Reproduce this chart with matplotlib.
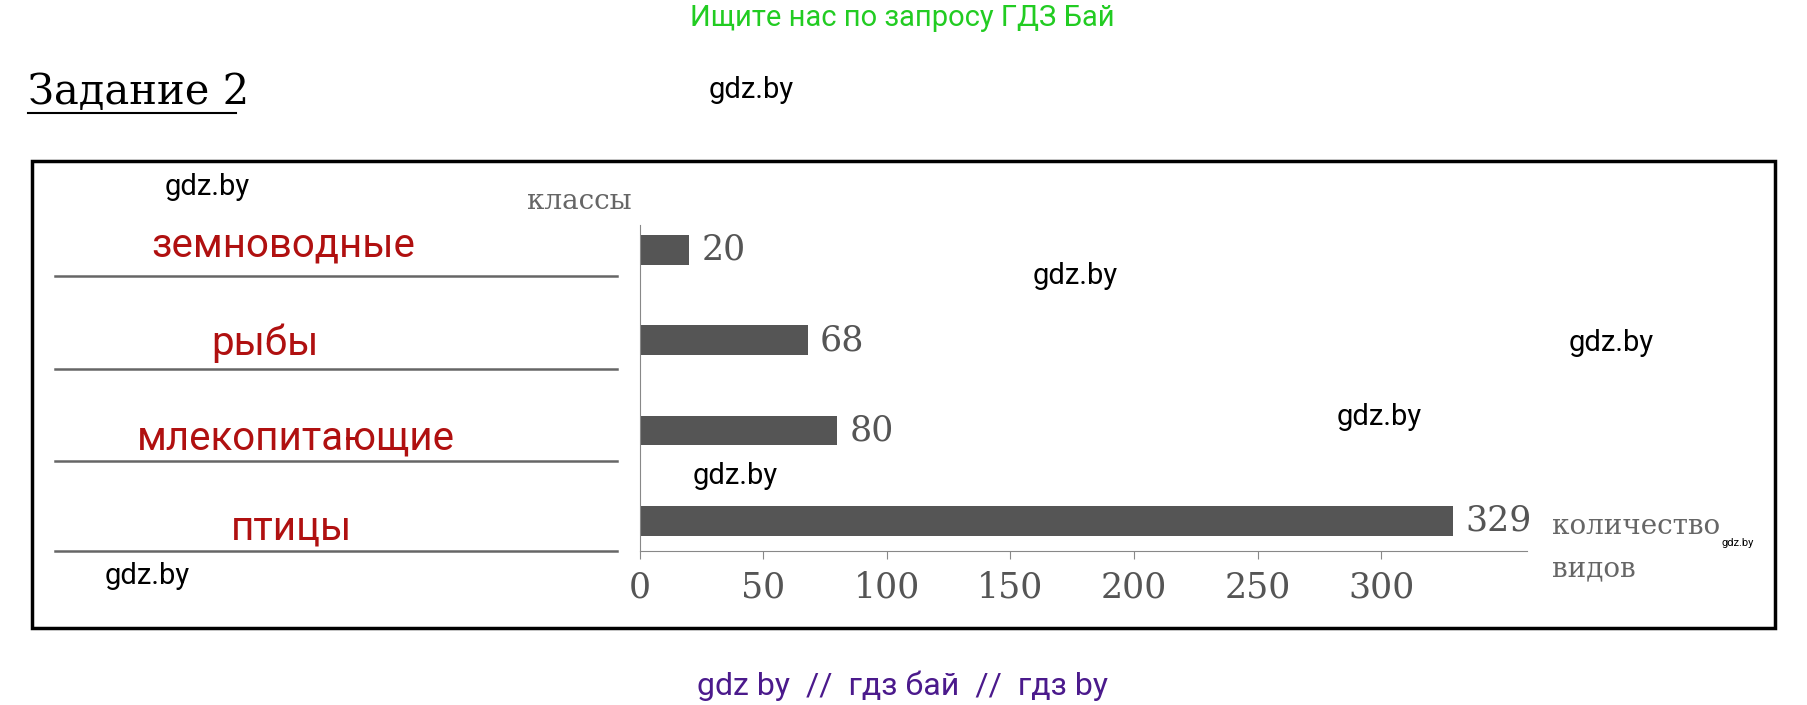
import matplotlib
matplotlib.use("Agg")
import matplotlib.pyplot as plt
from matplotlib.lines import Line2D
from matplotlib.patches import Rectangle

categories = ["земноводные", "рыбы", "млекопитающие", "птицы"]
values = [20, 68, 80, 329]
ticks = [0, 50, 100, 150, 200, 250, 300]

W, H = 1568, 612
def fx(x): return x / W
def fy(y): return 1 - y / H

fig = plt.figure(figsize=(18.07, 7.05), dpi=100)
fig.patch.set_facecolor("white")

fig.add_artist(Rectangle((fx(28), fy(545)), fx(1540) - fx(28), fy(140) - fy(545),
                         transform=fig.transFigure, fill=False, lw=2.5, ec="black"))

ax = fig.add_axes([fx(555), fy(478), fx(1325) - fx(555), fy(195) - fy(478)])
ax.barh(range(len(values)), values, height=0.33, color="#555555")
ax.set_ylim(3.33, -0.28)
ax.set_xlim(0, 359)
for s in ["top", "right"]:
    ax.spines[s].set_visible(False)
ax.spines["left"].set_color("#888888")
ax.spines["bottom"].set_color("#888888")
ax.set_yticks([])
ax.set_xticks(ticks)
ax.set_xticklabels([str(t) for t in ticks], fontsize=25, color="#555555", family="DejaVu Serif")
ax.tick_params(axis="x", length=6, color="#888888", pad=8)
ax.patch.set_alpha(0)
for i, v in enumerate(values):
    ax.text(v + 5, i, str(v), va="center", ha="left", fontsize=25, color="#555555", family="DejaVu Serif")

fig.text(fx(503), fy(175), "классы", ha="center", va="center", fontsize=20, color="#666666", family="DejaVu Serif")
fig.text(fx(1347), fy(457), "количество", ha="left", va="center", fontsize=20, color="#666666", family="DejaVu Serif")
fig.text(fx(1347), fy(494), "видов", ha="left", va="center", fontsize=20, color="#666666", family="DejaVu Serif")

label_y = [213, 298, 380, 458]
line_y = [240, 320, 400, 478]
label_x = [246, 230, 257, 253]
for c, lx, ly, liy in zip(categories, label_x, label_y, line_y):
    fig.text(fx(lx), fy(ly), c, ha="center", va="center", fontsize=29, color="#b01010", family="Roboto")
    fig.add_artist(Line2D([fx(48), fx(535)], [fy(liy), fy(liy)], transform=fig.transFigure,
                          color="#666666", lw=1.8))

fig.text(fx(783), fy(16), "Ищите нас по запросу ГДЗ Бай", ha="center", va="center",
         fontsize=21, color="#22cc22", family="Roboto")
fig.text(fx(24), fy(80), "Задание 2", ha="left", va="center", fontsize=30,
         color="black", family="DejaVu Serif")
fig.add_artist(Line2D([fx(24), fx(205)], [fy(98), fy(98)], transform=fig.transFigure, color="black", lw=1.5))
for (x, y) in [(652, 78), (180, 162), (933, 240), (1398, 298), (1197, 362), (638, 413), (128, 500)]:
    fig.text(fx(x), fy(y), "gdz.by", ha="center", va="center", fontsize=21, color="black", family="Roboto")
fig.text(fx(1508), fy(471), "gdz.by", ha="center", va="center", fontsize=8, color="black", family="Roboto")
fig.text(fx(783), fy(595), "gdz by  //  гдз бай  //  гдз by", ha="center", va="center",
         fontsize=23, color="#4b1a8c", family="Roboto")

fig.savefig("out.png", dpi=100)
